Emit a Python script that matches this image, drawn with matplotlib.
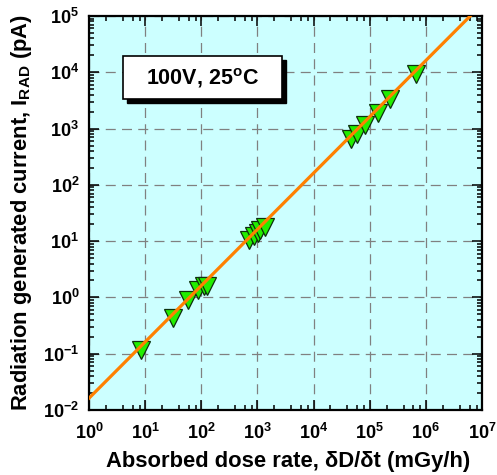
import numpy as np
import matplotlib
matplotlib.use("Agg")
import matplotlib.pyplot as plt
from matplotlib.patches import Rectangle
from matplotlib.ticker import LogLocator, FuncFormatter, NullFormatter
from matplotlib.transforms import offset_copy

plt.rcParams['font.family'] = ['Liberation Sans', 'DejaVu Sans']
plt.rcParams['font.weight'] = 'bold'
plt.rcParams['mathtext.fontset'] = 'custom'
plt.rcParams['mathtext.rm'] = 'Liberation Sans:bold'
plt.rcParams['mathtext.bf'] = 'Liberation Sans:bold'
plt.rcParams['mathtext.it'] = 'Liberation Sans:bold'

# ---- data ----
dose_rate = [8.3, 31, 59, 89, 110, 126,
             711, 857, 1030, 1120, 1350,
             45700, 58900, 83200, 138000, 234000, 661000]
current = [0.116, 0.43, 0.89, 1.34, 1.57, 1.62,
           10.6, 12.2, 13.9, 15.8, 17.8,
           650, 810, 1180, 1920, 3300, 9500]
fit_coeff = 0.0162
fit_exp = 1.0
fit_x = [1, 1e7]
annotation = r'100V, 25$^{\mathbf{o}}$C'
xlabel = r'Absorbed dose rate, δD/δt (mGy/h)'
ylabel = r'Radiation generated current, I$_{\mathbf{RAD}}$ (pA)'

W, H = 497, 475
fig = plt.figure(figsize=(W / 100, H / 100), dpi=100)
ax = fig.add_axes([89 / W, 1 - 410 / H, (482 - 89) / W, (410 - 16) / H])
ax.set_facecolor('#ccffff')

ax.set_xscale('log')
ax.set_yscale('log')
ax.set_xlim(1, 1e7)
ax.set_ylim(1e-2, 1e5)

ax.grid(True, which='major', color='#808080', lw=0.9, ls=(0, (8, 5)), zorder=0)
ax.set_axisbelow(True)

ax.plot(dose_rate, current, ls='none', marker='v', ms=13.5,
        mfc='#22ee00', mec='#0d300d', mew=0.9, zorder=3)

fx = np.array(fit_x, dtype=float)
ax.plot(fx, fit_coeff * fx ** fit_exp, color='#ff8000', lw=2.3, zorder=4)

ax.xaxis.set_major_locator(LogLocator(base=10, numticks=20))
ax.xaxis.set_minor_locator(LogLocator(base=10, subs=(2, 4, 6, 8), numticks=20))
ax.yaxis.set_major_locator(LogLocator(base=10, numticks=20))
ax.yaxis.set_minor_locator(LogLocator(base=10, subs=np.arange(2, 10), numticks=20))
fmt = FuncFormatter(lambda v, p: r'$\mathbf{10^{%d}}$' % int(round(np.log10(v))))
ax.xaxis.set_major_formatter(fmt)
ax.yaxis.set_major_formatter(fmt)
ax.xaxis.set_minor_formatter(NullFormatter())
ax.yaxis.set_minor_formatter(NullFormatter())

ax.tick_params(which='both', direction='in', top=True, right=True, width=1.1,
               labelsize=13, colors='black')
ax.tick_params(which='major', length=7.2, pad=7)
ax.tick_params(axis='x', which='major', pad=9)
ax.tick_params(which='minor', length=3.6)
for s in ax.spines.values():
    s.set_linewidth(1.6)

ax.set_xlabel(xlabel, fontsize=15.8, fontweight='bold')
ax.set_ylabel(ylabel, fontsize=15.8, fontweight='bold')
ax.xaxis.set_label_coords(0.506, -0.105)
ax.yaxis.set_label_coords(-0.140, 0.5)

# annotation box with shadow
bx, by, bw, bh = 0.086, 0.789, 0.404, 0.109
sh = offset_copy(ax.transAxes, fig=fig, x=4, y=-4, units='dots')
ax.add_patch(Rectangle((bx, by), bw, bh, transform=sh, facecolor='black',
                       edgecolor='black', lw=1, zorder=5))
ax.add_patch(Rectangle((bx, by), bw, bh, transform=ax.transAxes, facecolor='white',
                       edgecolor='black', lw=1.2, zorder=6))
ax.text(bx + bw / 2, by + bh / 2, annotation, transform=ax.transAxes,
        ha='center', va='center', fontsize=15.5, fontweight='bold', zorder=7)

fig.savefig('out.png', dpi=100)
